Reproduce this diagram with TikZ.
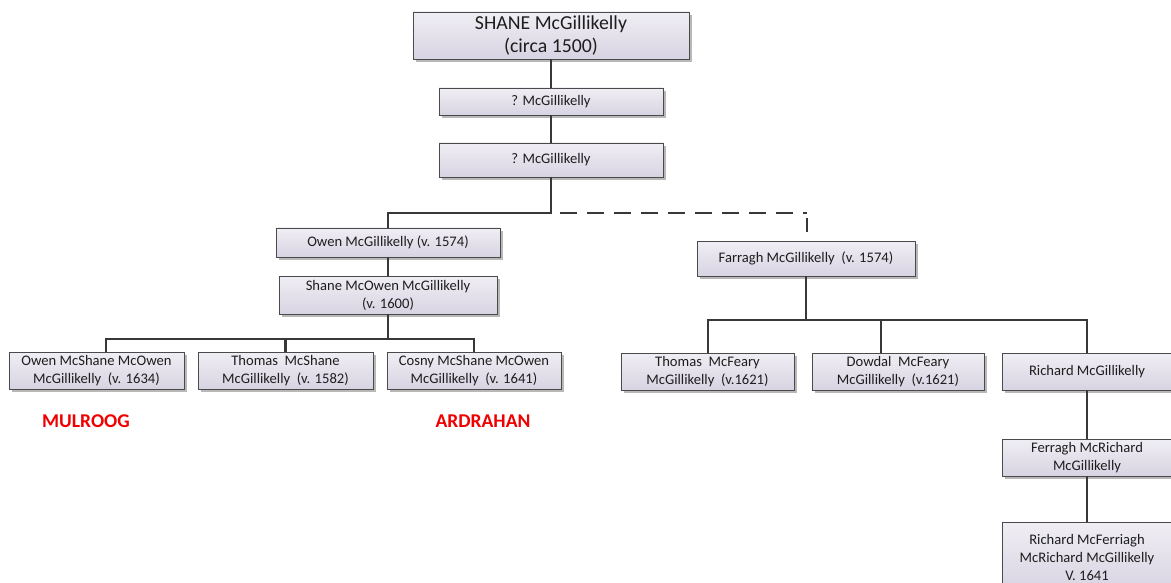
\documentclass[tikz,border=0pt]{standalone}
\usepackage{fontspec}
\setmainfont{Carlito}
\usetikzlibrary{shadows}
\definecolor{boxtop}{HTML}{F0EEF4}
\definecolor{boxbot}{HTML}{D8D3E2}
\definecolor{boxline}{HTML}{4A4A4A}
\definecolor{conn}{HTML}{383838}
\definecolor{txt}{HTML}{1E1E1E}
\definecolor{place}{HTML}{F00000}
\tikzset{
  famb/.style={draw=boxline, line width=0.9pt, top color=boxtop, bottom color=boxbot,
    drop shadow={shadow xshift=3pt, shadow yshift=-3pt, fill=black!28, opacity=1},
    inner sep=0pt, align=center, text=txt, font=\fontsize{14.6}{18}\selectfont},
  conline/.style={draw=conn, line width=2.8pt},
  placelbl/.style={text=place, font=\fontsize{19.5}{22}\selectfont\bfseries}
}
\newcommand{\bx}[6]{% name, x1, y1, x2, y2, text
  \node[famb, minimum width={(#4-#2)*1pt}, minimum height={(#5-#3)*1pt}] (#1) at ({(#2+#4)/2},{(#3+#5)/2}) {#6};}
\begin{document}
\begin{tikzpicture}[x=1pt, y=-1pt]
\useasboundingbox (0,0) rectangle (1171,583);
% boxes
\node[famb, minimum width=276pt, minimum height=47pt, font=\fontsize{19.8}{23}\selectfont] (shane) at (551,35.5) {SHANE McGillikelly\\(circa 1500)};
\bx{qa}{439}{88}{663}{115}{? McGillikelly}
\bx{qb}{439}{143}{663}{177}{? McGillikelly}
\bx{owen}{276}{228}{500}{257}{Owen McGillikelly (v. 1574)}
\bx{smo}{279}{276}{497}{314}{Shane McOwen McGillikelly\\(v. 1600)}
\bx{oms}{9}{352}{184}{389}{Owen McShane McOwen\\McGillikelly\ \ (v. 1634)}
\bx{tms}{198}{352}{373}{389}{Thomas\ \ McShane\\McGillikelly\ \ (v. 1582)}
\bx{cms}{387}{352}{561}{389}{Cosny McShane McOwen\\McGillikelly\ \ (v. 1641)}
\bx{far}{697}{241}{915}{276}{Farragh McGillikelly\ \ (v. 1574)}
\bx{tmf}{621}{353}{794}{390}{Thomas\ \ McFeary\\McGillikelly\ \ (v.1621)}
\bx{dmf}{812}{353}{984}{390}{Dowdal\ \ McFeary\\McGillikelly\ \ (v.1621)}
\bx{rich}{1002}{353}{1172}{390}{Richard McGillikelly}
\bx{fmr}{1002}{439}{1172}{476}{Ferragh McRichard\\McGillikelly}
\bx{rmf}{1002}{522}{1172}{592}{Richard McFerriagh\\McRichard McGillikelly\\V. 1641}
% place labels
\node[placelbl] (mul) at (86,421) {MULROOG};
\node[placelbl] (ard) at (483,421) {ARDRAHAN};
% junctions
\coordinate (j1) at (551,213);
\coordinate (dcorner) at (807,213);
\coordinate (dtop) at (807,218);
\coordinate (dend) at (807,232);
\coordinate (j2) at (388,339);
\coordinate (j3) at (806,320);
% connectors
\draw[conline] (shane.south) -- (qa.north);
\draw[conline] (qa.south) -- (qb.north);
\draw[conline] (qb.south) -- (j1) -| (owen.north);
\draw[conline, dash pattern=on 17pt off 10pt, dash phase=-9pt] (j1) -- (dcorner);
\draw[conline] (dtop) -- (dend);
\draw[conline] (owen.south) -- (smo.north);
\draw[conline] (smo.south) -- (j2);
\draw[conline] ([xshift=9.5pt]oms.north) |- (j2) -| (cms.north);
\draw[conline] (j2) -| (tms.north);
\draw[conline] (far.south) -- (j3);
\draw[conline] ([xshift=0.5pt]tmf.north) |- (j3) -| (rich.north);
\draw[conline] (j3) -| ([xshift=-17pt]dmf.north);
\draw[conline] (rich.south) -- (fmr.north);
\draw[conline] (fmr.south) -- (rmf.north);
\end{tikzpicture}
\end{document}
